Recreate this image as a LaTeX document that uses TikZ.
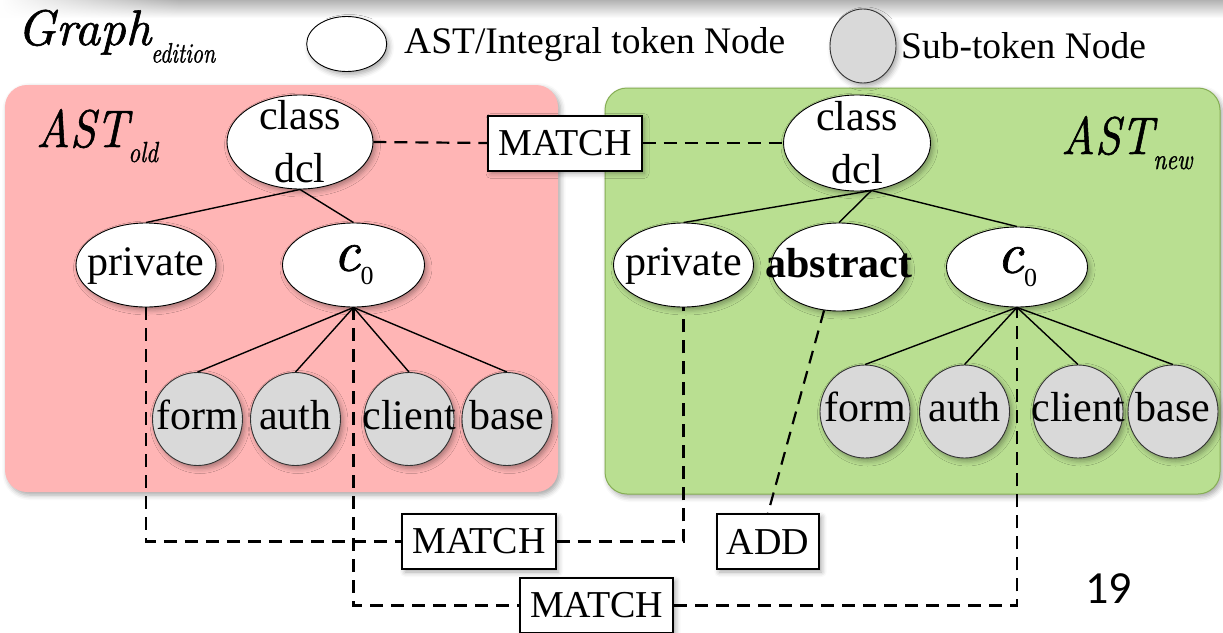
\documentclass[tikz,border=0pt]{standalone}
\usepackage{fontspec}
\setmainfont{Liberation Serif}
\newfontfamily\lmit{lmroman10-italic.otf}[FakeBold=1.2]
\newfontfamily\slidenum{Carlito}
\usetikzlibrary{shapes.geometric,shadows.blur,fadings}
\definecolor{pinkbg}{HTML}{FFB5B5}
\definecolor{greenbg}{HTML}{B9DF91}
\definecolor{greenbd}{HTML}{86AE55}
\definecolor{subgray}{HTML}{D9D9D9}
\begin{document}
\begin{tikzpicture}[x=1pt,y=-1pt,
  shad/.style={blur shadow={shadow xshift=2.5pt,shadow yshift=-3pt,shadow blur radius=5pt,shadow opacity=35}},
  tok/.style={ellipse, draw=black, line width=0.9pt, fill=white, inner sep=0pt, shad},
  subtok/.style={ellipse, draw=black!80, line width=0.9pt, fill=subgray, inner sep=0pt, minimum width=90pt, minimum height=93pt, shad},
  nodetext/.style={font=\fontsize{42}{53}\selectfont, inner sep=0pt, align=center},
  onetext/.style={font=\fontsize{42}{53}\selectfont, inner sep=0pt, text height=29pt, text depth=9pt},
  tagbox/.style={rectangle, draw=black, line width=2pt, fill=white, font=\fontsize{38}{44}\selectfont, inner xsep=10pt, inner ysep=0pt, minimum height=55pt, shad},
  treeline/.style={line width=1.4pt},
  dline/.style={line width=2.2pt, dash pattern=on 13pt off 8pt},
  panelbox/.style={rounded corners=22pt, shad}]
\useasboundingbox (0,0) rectangle (1223,632);
% top band
\shade[top color=black!30, bottom color=white] (0,0) rectangle (1223,18);
\fill[white, path fading=east] (0,0) rectangle (180,18);
% panels
\fill[pinkbg, panelbox] (5,85) rectangle (558,492);
\filldraw[fill=greenbg, draw=greenbd, line width=1pt, panelbox] (605,88) rectangle (1220,494);
% title and legend
\node[anchor=base west, inner sep=0pt, font=\lmit\fontsize{50}{52}\selectfont] (title) at (17,45) {Graph\raisebox{-17.5pt}{\scalebox{0.78}[1]{\fontsize{28}{30}\selectfont edition}}};
\node[tok, minimum width=80pt, minimum height=55pt] (legtok) at (346.7,44) {};
\node[anchor=base west, inner sep=0pt, font=\fontsize{37.5}{40}\selectfont] (legtoktxt) at (404,53) {AST/Integral token Node};
\node[subtok, minimum width=66pt, minimum height=74pt] (legsub) at (863,46) {};
\node[anchor=base west, inner sep=0pt, font=\fontsize{37.5}{40}\selectfont] (legsubtxt) at (901,58) {Sub-token Node};
% panel titles
\node[anchor=base west, inner sep=0pt, font=\lmit\fontsize{53}{55}\selectfont] (astold) at (36,147) {\scalebox{0.86}[1]{AST}\raisebox{-15pt}{\scalebox{0.8}[1]{\fontsize{29}{30}\selectfont old}}};
\node[anchor=base west, inner sep=0pt, font=\lmit\fontsize{53}{55}\selectfont] (astnew) at (1061,154) {\scalebox{0.86}[1]{AST}\raisebox{-15pt}{\scalebox{0.8}[1]{\fontsize{29}{30}\selectfont new}}};
% left tree
\node[tok, minimum width=146pt, minimum height=94pt, label={[nodetext]center:class\\dcl}] (lcls) at (300,142) {};
\node[tok, minimum width=140pt, minimum height=84pt, label={[onetext]center:private}] (lpriv) at (146,265) {};
\node[tok, minimum width=142pt, minimum height=84pt, label={[inner sep=0pt]center:{\lmit\fontsize{58}{60}\selectfont c\/}\raisebox{-14pt}{\fontsize{26}{28}\selectfont 0}}] (lc0) at (353.5,265) {};
\node[subtok, label={[onetext]center:form}] (lform) at (197.5,419) {};
\node[subtok, label={[onetext]center:auth}] (lauth) at (295.5,419) {};
\node[subtok, label={[onetext]center:client}] (lclient) at (409,419) {};
\node[subtok, label={[onetext]center:base}] (lbase) at (507,419) {};
% right tree
\node[tok, minimum width=147pt, minimum height=96pt, label={[nodetext]center:class\\dcl}] (rcls) at (857,143) {};
\node[tok, minimum width=140pt, minimum height=84pt, label={[onetext]center:private}] (rpriv) at (683.5,265) {};
\node[tok, minimum width=136pt, minimum height=88pt, label={[onetext]center:\textbf{abstract}}] (rabs) at (839,267) {};
\node[tok, minimum width=141pt, minimum height=80pt, label={[inner sep=0pt]center:{\lmit\fontsize{58}{60}\selectfont c\/}\raisebox{-14pt}{\fontsize{26}{28}\selectfont 0}}] (rc0) at (1017,267) {};
\node[subtok, label={[onetext]center:form}] (rform) at (865,411.5) {};
\node[subtok, label={[onetext]center:auth}] (rauth) at (964.5,411.5) {};
\node[subtok, label={[onetext]center:client}] (rclient) at (1078,411.5) {};
\node[subtok, label={[onetext]center:base}] (rbase) at (1173,411.5) {};
% tree edges
\draw[treeline] (lcls.south) -- (lpriv.north);
\draw[treeline] (lcls.south) -- (lc0.north);
\foreach \n in {lform,lauth,lclient,lbase} \draw[treeline] (lc0.south) -- (\n.north);
\draw[treeline] (rcls.-73) -- (rpriv.north);
\draw[treeline] (rcls.-73) -- (rabs.north);
\draw[treeline] (rcls.-73) -- (rc0.north);
\foreach \n in {rform,rauth,rclient,rbase} \draw[treeline] (rc0.south) -- (\n.north);
% tags
\node[tagbox] (m0) at (565,143) {MATCH};
\node[tagbox] (m1) at (479,541.5) {MATCH};
\node[tagbox] (add) at (768,541.5) {ADD};
\node[tagbox] (m2) at (596.7,605.5) {MATCH};
% dashed connectors
\draw[dline] (lcls.east) -- (m0.west);
\draw[dline] (m0.east) -- (rcls.west);
\draw[dline] (lpriv.south) |- (m1.west);
\draw[dline] (m1.east) -| (rpriv.south);
\draw[dline] (lc0.south) |- (m2.west);
\draw[dline] (m2.east) -| (rc0.south);
\draw[dline] (rabs.-109) -- (add.north);
% slide number
\node[anchor=base west, inner sep=0pt, font=\slidenum\fontsize{46}{48}\selectfont] (pg) at (1085,603) {19};
\end{tikzpicture}
\end{document}
